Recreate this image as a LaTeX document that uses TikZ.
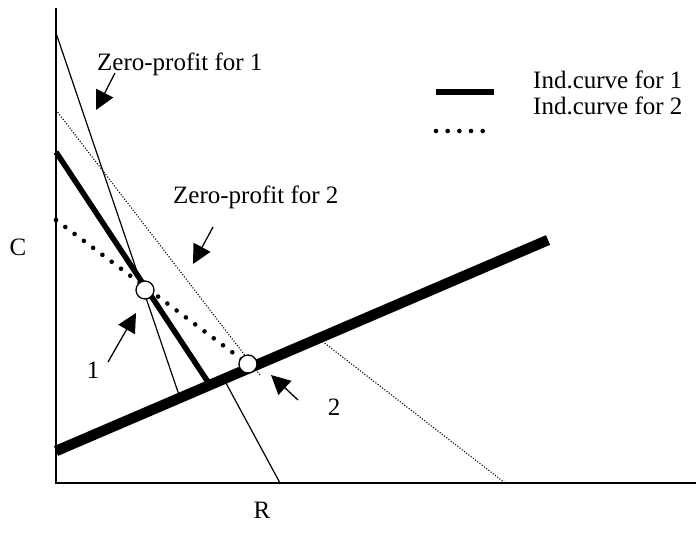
\documentclass[tikz,border=0pt]{standalone}
\usepackage{fontspec}
\setmainfont{Liberation Serif}
\usetikzlibrary{arrows.meta}
\begin{document}
\begin{tikzpicture}[x=1pt,y=-1pt,
  axis/.style={line width=1.3pt},
  thinline/.style={line width=1.2pt},
  thindot/.style={line width=1.1pt, dash pattern=on 1.1pt off 1.7pt},
  indone/.style={line width=5.5pt},
  indtwo/.style={line width=4.6pt, line cap=round, dash pattern=on 0pt off 11.6pt},
  bigline/.style={line width=10.5pt},
  eqpt/.style={circle, draw, fill=white, line width=1.3pt, minimum size=18pt, inner sep=0pt},
  lbl/.style={inner sep=0pt, font=\fontsize{25}{30}\selectfont},
  ptr/.style={line width=1.3pt, -{Triangle[length=19pt,width=19pt]}}
]
\useasboundingbox (0,0) rectangle (696,533);

% axes
\coordinate (ytop) at (56,8);
\coordinate (orig) at (56,483);
\coordinate (xend) at (696,483);
\draw[axis] (ytop) -- (orig) -- (xend);

% zero-profit for 1
\coordinate (zpa1) at (56,33);
\coordinate (zpa2) at (179,395);
\coordinate (zpa3) at (223.6,378.6);
\coordinate (zpa4) at (280,483);
\draw[thinline] (zpa1) -- (zpa2);
\draw[thinline] (zpa3) -- (zpa4);

% zero-profit for 2
\coordinate (zpb1) at (56,110);
\coordinate (zpb2) at (260,375);
\coordinate (zpb3) at (318,338);
\coordinate (zpb4) at (505,483);
\draw[thindot] (zpb1) -- (zpb2);
\draw[thindot] (zpb3) -- (zpb4);

% indifference curve 1
\coordinate (ia1) at (56,152);
\coordinate (ia2) at (210,385);
\draw[indone] (ia1) -- (ia2);

% indifference curve 2
\coordinate (ib1) at (56,220);
\coordinate (ib2) at (248,364);
\draw[indtwo] (ib1) -- (ib2);

% thick line
\coordinate (tl1) at (56,451);
\coordinate (tl2) at (548,240);
\draw[bigline] (tl1) -- (tl2);

% equilibrium points
\node[eqpt] (c1) at (145,290) {};
\node[eqpt] (c2) at (248,364) {};

% legend
\coordinate (lg1a) at (436,92);
\coordinate (lg1b) at (494,92);
\draw[line width=6pt] (lg1a) -- (lg1b);
\coordinate (lg2a) at (436,131);
\coordinate (lg2b) at (484,131);
\draw[indtwo, dash pattern=on 0pt off 11.67pt] (lg2a) -- (lg2b);
\node[lbl, anchor=base west] (lt1) at (533,88) {Ind.curve for 1};
\node[lbl, anchor=base west] (lt2) at (533,114) {Ind.curve for 2};

% labels
\node[lbl, anchor=base west] (zp1) at (97,70) {Zero-profit for 1};
\node[lbl, anchor=base west] (zp2) at (173,203) {Zero-profit for 2};
\node[lbl] (cl) at (18,247) {C};
\node[lbl] (rl) at (262,510) {R};
\node[lbl] (one) at (93,370) {1};
\node[lbl] (two) at (334,407) {2};

% pointers
\coordinate (p1s) at (115,73);
\coordinate (p1e) at (96,110);
\draw[ptr] (p1s) -- (p1e);
\coordinate (p2s) at (213,227);
\coordinate (p2e) at (193,264);
\draw[ptr] (p2s) -- (p2e);
\coordinate (p3s) at (108,362);
\coordinate (p3e) at (136,313);
\draw[ptr] (p3s) -- (p3e);
\coordinate (p4s) at (298,400);
\coordinate (p4e) at (271,375);
\draw[ptr] (p4s) -- (p4e);
\end{tikzpicture}
\end{document}
